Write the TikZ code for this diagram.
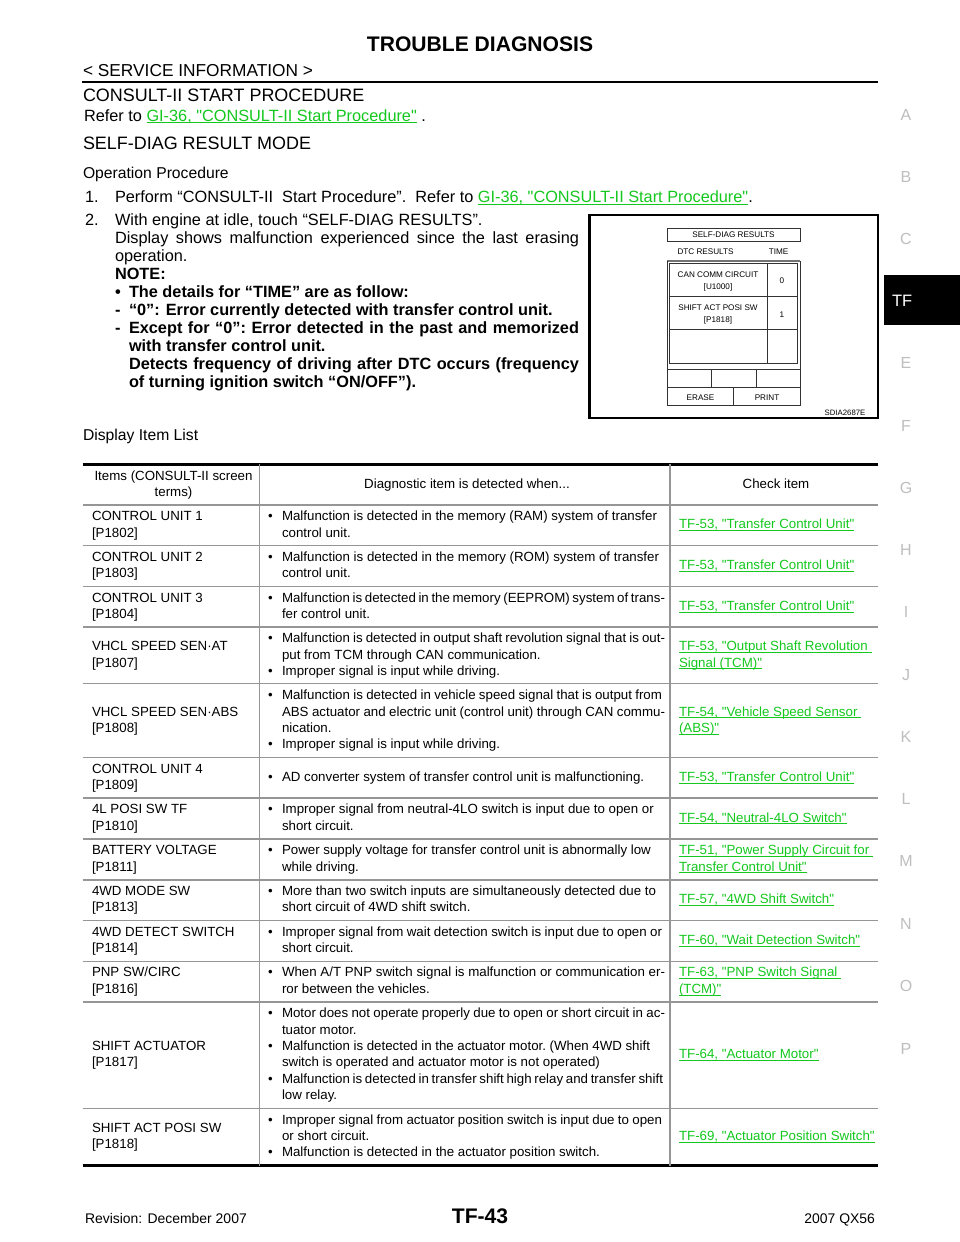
\documentclass[tikz,border=0pt]{standalone}
\usepackage{fontspec}
\setmainfont{Liberation Sans}[Ligatures=TeXOff]
\definecolor{lk}{RGB}{20,200,30}
\definecolor{tabgrey}{RGB}{190,190,190}
\definecolor{rowline}{RGB}{150,150,150}
\newcommand\sz[1]{\fontsize{\fpeval{#1*.75}pt}{\fpeval{#1*.9}pt}\selectfont}
\newcommand\TL[3]{\node[anchor=base west] at (#1,#2) {#3};}
\newcommand\TC[3]{\node[anchor=base] at (#1,#2) {#3};}
\newcommand\J[4]{\node[anchor=base west] at (#1,#2) {\hbox to \fpeval{(#3-#1)*.75}pt{\spaceskip=.278em plus 1em minus .2em\xspaceskip=\spaceskip #4}};}
\newsavebox\lkbox
\newcommand\lnk[1]{\sbox\lkbox{\textcolor{lk}{#1}}\textcolor{lk}{\rlap{\rule[-1.7pt]{\wd\lkbox}{.7pt}}\usebox\lkbox}}
\newcommand\BU[2]{\node[anchor=base west] at (268,#1) {\sz{13.3}•};}
\newcommand\R[3]{\J{282}{#1}{#2}{#3}}
\newcommand\Q[2]{\TL{282}{#1}{#2}}
\newcommand\LK[2]{\TL{679}{#1}{\lnk{#2}}}
\begin{document}
\begin{tikzpicture}[x=.75pt,y=-.75pt,every node/.style={inner sep=0pt,outer sep=0pt}]
\useasboundingbox (0,0) rectangle (960,1242);
\fill[white] (0,0) rectangle (960,1242);
% header
\TC{480}{51.5}{\sz{21.1}\bfseries TROUBLE DIAGNOSIS}
\TL{83}{76}{\sz{17.3}< SERVICE INFORMATION >}
\draw[line width=2.2] (82,82) -- (878,82);
\TL{83}{101.5}{\sz{17.95}CONSULT-II START PROCEDURE}
\TL{84}{121}{\sz{16.3}Refer to \lnk{GI-36, "CONSULT-II Start Procedure"} .}
\TL{83}{149.5}{\sz{17.95}SELF-DIAG RESULT MODE}
\TL{83}{178.5}{\sz{15.7}Operation Procedure}
\TL{85}{202.5}{\sz{16.3}1.}
\TL{115}{202.5}{\sz{16.3}Perform “CONSULT-II\ \ Start Procedure”.\ \ Refer to \lnk{GI-36, "CONSULT-II Start Procedure"}.}
\TL{85}{225}{\sz{16.3}2.}
\TL{115}{225}{\sz{16.3}With engine at idle, touch “SELF-DIAG RESULTS”.}
\J{115}{243}{579}{\sz{16.3}Display shows malfunction experienced since the last erasing}
\TL{115}{261}{\sz{16.3}operation.}
\TL{115}{279}{\sz{16.3}\bfseries NOTE:}
\TL{115}{297}{\sz{16.3}\bfseries •}
\TL{129}{297}{\sz{16.3}\bfseries The details for “TIME” are as follow:}
\TL{115}{315}{\sz{16.3}\bfseries -}
\TL{129}{315}{\sz{16.3}\bfseries “0”: Error currently detected with transfer control unit.}
\TL{115}{333}{\sz{16.3}\bfseries -}
\J{129}{333}{579}{\sz{16.3}\bfseries Except for “0”: Error detected in the past and memorized}
\TL{129}{351}{\sz{16.3}\bfseries with transfer control unit.}
\J{129}{369}{579}{\sz{16.3}\bfseries Detects frequency of driving after DTC occurs (frequency}
\TL{129}{387}{\sz{16.3}\bfseries of turning ignition switch “ON/OFF”).}
\TL{83}{440}{\sz{15.7}Display Item List}
% side tabs
\fill[black] (884,275) rectangle (960,325);
\node[anchor=base west,white] at (892,306) {\sz{16.5}TF};
\foreach \l/\y in {A/114,B/176,C/238,E/362,F/425,G/487,H/549,I/611,J/674,K/736,L/798,M/860,N/923,O/985,P/1048}
  \node[anchor=base,text=tabgrey] at (906,\y+6) {\sz{16}\l};
% figure
\draw[line width=1.6] (589.5,215) rectangle (878,418);
\begin{scope}[line width=.7,draw=black!80]
\draw (667,228) rectangle (800,241);
\draw[draw=black!55,line width=1] (667,261) -- (800,261);
\draw (667,261) -- (667,405) -- (800,405) -- (800,261);
\draw (669.5,263.5) rectangle (797.5,363);
\draw (669.5,296.5) -- (797.5,296.5);
\draw (669.5,329.5) -- (797.5,329.5);
\draw (767,263.5) -- (767,363);
\draw (667,369) -- (800,369);
\draw (667,387) -- (800,387);
\draw (711,369) -- (711,387);
\draw (756,369) -- (756,387);
\draw (733,387) -- (733,405);
\end{scope}
\begin{scope}[every node/.append style={font=\sz{8.15}}]
\TC{733.5}{237.5}{SELF-DIAG RESULTS}
\TC{705.5}{254.5}{DTC RESULTS}
\TC{778.5}{254.5}{TIME}
\TC{718}{277.5}{CAN COMM CIRCUIT}
\TC{718}{289}{[U1000]}
\TC{782}{283.5}{0}
\TC{718}{310.5}{SHIFT ACT POSI SW}
\TC{718}{322.5}{[P1818]}
\TC{782}{317}{1}
\TC{700.5}{400.5}{ERASE}
\TC{767}{400.5}{PRINT}
\end{scope}
\TC{845}{415}{\sz{7.8}SDIA2687E}
% table rules
\draw[line width=1.8] (82.5,464.3) -- (877.5,464.3);
\foreach \y in {505,545.7,586.3,627,683.7,757.3,798,839,879.8,920.5,961.5,1002,1108.5}
  \draw[rowline,line width=1.1] (82.5,\y) -- (877.5,\y);
\draw[line width=1.8] (82.5,1165.5) -- (877.5,1165.5);
\draw[rowline,line width=.8] (259.5,464.3) -- (259.5,1165.5);
\draw[rowline,line width=.8] (670,464.3) -- (670,1165.5);
\begin{scope}[every node/.append style={font=\sz{13.3}}]
% header row
\TC{173.5}{480}{Items (CONSULT-II screen}
\TC{173.5}{496}{terms)}
\TC{467}{488}{Diagnostic item is detected when...}
\TC{776}{488}{Check item}
% col 1
\TL{92}{520.7}{CONTROL UNIT 1}\TL{92}{537}{[P1802]}
\TL{92}{561.3}{CONTROL UNIT 2}\TL{92}{577.7}{[P1803]}
\TL{92}{602}{CONTROL UNIT 3}\TL{92}{618.4}{[P1804]}
\TL{92}{650.5}{VHCL SPEED SEN·AT}\TL{92}{667}{[P1807]}
\TL{92}{716}{VHCL SPEED SEN·ABS}\TL{92}{732.4}{[P1808]}
\TL{92}{773}{CONTROL UNIT 4}\TL{92}{789.3}{[P1809]}
\TL{92}{813.8}{4L POSI SW TF}\TL{92}{830.2}{[P1810]}
\TL{92}{854.6}{BATTERY VOLTAGE}\TL{92}{871}{[P1811]}
\TL{92}{895.4}{4WD MODE SW}\TL{92}{911.7}{[P1813]}
\TL{92}{936.2}{4WD DETECT SWITCH}\TL{92}{952.5}{[P1814]}
\TL{92}{976.9}{PNP SW/CIRC}\TL{92}{993.3}{[P1816]}
\TL{92}{1050}{SHIFT ACTUATOR}\TL{92}{1066.4}{[P1817]}
\TL{92}{1132}{SHIFT ACT POSI SW}\TL{92}{1148.3}{[P1818]}
% col 2
\BU{520.7}{}\R{520.7}{657}{Malfunction is detected in the memory (RAM) system of transfer}
\Q{537}{control unit.}
\BU{561.3}{}\R{561.3}{659}{Malfunction is detected in the memory (ROM) system of transfer}
\Q{577.7}{control unit.}
\BU{602}{}\R{602}{665}{Malfunction is detected in the memory (EEPROM) system of trans-}
\Q{618.4}{fer control unit.}
\BU{642.6}{}\R{642.6}{665}{Malfunction is detected in output shaft revolution signal that is out-}
\Q{659}{put from TCM through CAN communication.}
\BU{675.4}{}\Q{675.4}{Improper signal is input while driving.}
\BU{699.6}{}\R{699.6}{662}{Malfunction is detected in vehicle speed signal that is output from}
\R{716}{665}{ABS actuator and electric unit (control unit) through CAN commu-}
\Q{732.4}{nication.}
\BU{748.8}{}\Q{748.8}{Improper signal is input while driving.}
\BU{781.2}{}\Q{781.2}{AD converter system of transfer control unit is malfunctioning.}
\BU{813.8}{}\Q{813.8}{Improper signal from neutral-4LO switch is input due to open or}
\Q{830.2}{short circuit.}
\BU{854.6}{}\Q{854.6}{Power supply voltage for transfer control unit is abnormally low}
\Q{871}{while driving.}
\BU{895.4}{}\Q{895.4}{More than two switch inputs are simultaneously detected due to}
\Q{911.7}{short circuit of 4WD shift switch.}
\BU{936.2}{}\R{936.2}{662}{Improper signal from wait detection switch is input due to open or}
\Q{952.5}{short circuit.}
\BU{976.9}{}\R{976.9}{665}{When A/T PNP switch signal is malfunction or communication er-}
\Q{993.3}{ror between the vehicles.}
\BU{1017.7}{}\R{1017.7}{665}{Motor does not operate properly due to open or short circuit in ac-}
\Q{1034}{tuator motor.}
\BU{1050.4}{}\R{1050.4}{650}{Malfunction is detected in the actuator motor. (When 4WD shift}
\Q{1066.8}{switch is operated and actuator motor is not operated)}
\BU{1083.2}{}\R{1083.2}{663}{Malfunction is detected in transfer shift high relay and transfer shift}
\Q{1099.5}{low relay.}
\BU{1124}{}\R{1124}{662}{Improper signal from actuator position switch is input due to open}
\Q{1140.4}{or short circuit.}
\BU{1156.8}{}\Q{1156.8}{Malfunction is detected in the actuator position switch.}
% col 3
\LK{528.8}{TF-53, "Transfer Control Unit"}
\LK{569.5}{TF-53, "Transfer Control Unit"}
\LK{610.2}{TF-53, "Transfer Control Unit"}
\LK{650.5}{TF-53, "Output Shaft Revolution\ }
\LK{667}{Signal (TCM)"}
\LK{716}{TF-54, "Vehicle Speed Sensor\ }
\LK{732.4}{(ABS)"}
\LK{781.2}{TF-53, "Transfer Control Unit"}
\LK{822}{TF-54, "Neutral-4LO Switch"}
\LK{854.6}{TF-51, "Power Supply Circuit for\ }
\LK{871}{Transfer Control Unit"}
\LK{903.5}{TF-57, "4WD Shift Switch"}
\LK{944.3}{TF-60, "Wait Detection Switch"}
\LK{976.9}{TF-63, "PNP Switch Signal\ }
\LK{993.3}{(TCM)"}
\LK{1058.5}{TF-64, "Actuator Motor"}
\LK{1140.4}{TF-69, "Actuator Position Switch"}
\end{scope}
% footer
\TL{85}{1223.5}{\sz{13.95}Revision: December 2007}
\TC{480}{1223}{\sz{21.1}\bfseries TF-43}
\node[anchor=base east] at (875,1223.5) {\sz{13.95}2007 QX56};
\end{tikzpicture}
\end{document}
